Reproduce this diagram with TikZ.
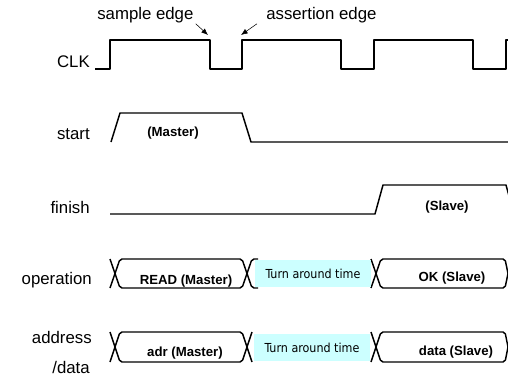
\documentclass[tikz,border=0pt]{standalone}
\usepackage{fontspec}
\setmainfont{Liberation Sans}
\newfontfamily\tatfont{DejaVu Sans Condensed}
\usetikzlibrary{arrows.meta}
\definecolor{tatcyan}{RGB}{204,255,255}
\begin{document}
\begin{tikzpicture}[x=0.75pt,y=-0.75pt,
        wave/.style={line width=1.1pt,line join=round},
        bus/.style={wave,rounded corners=1.5pt},
        signal/.style={anchor=base east,inner sep=0pt,font=\fontsize{12.6}{14}\selectfont},
        note/.style={anchor=base west,inner sep=0pt,font=\fontsize{12.6}{14}\selectfont},
        who/.style={anchor=base,inner sep=0pt,font=\bfseries\fontsize{9.9}{11}\selectfont},
        turn/.style={fill=tatcyan,minimum width=87pt,minimum height=20.25pt,inner sep=0pt,font=\tatfont\fontsize{9.3}{11}\selectfont}]
        \clip (0,0) rectangle (508,375);
        \node[signal] (clk) at (90,67) {CLK};
        \node[signal] (st) at (90,139) {start};
        \node[signal] (fin) at (90,213) {finish};
        \node[signal] (op) at (92,284) {operation};
        \node[signal] (adr) at (92,343) {address};
        \node[signal] (dat) at (90,373) {/data};
        \node[note] (sample) at (97,19) {sample edge};
        \node[note] (assert) at (266,19) {assertion edge};
        \coordinate (fall) at (208,35);
        \coordinate (rise) at (241,35);
        \draw[-{Latex[length=5pt,width=4pt]}] ([shift={(2,1)}]sample.south east) to (fall);
        \draw[-{Latex[length=5pt,width=4pt]}] ([shift={(-9,1)}]assert.south west) to (rise);
        \draw[wave] (95,69) -- (110,69) -- (110,40) -- (210,40) -- (210,69) -- (242,69) -- (242,40) -- (341,40) -- (341,69)
            -- (374,69) -- (374,40) -- (473,40) -- (473,69) -- (506,69) -- (506,40) -- (512,40);
        \draw[wave] (111,142) -- (120,113) -- (242,113) -- (251,142) -- (512,142);
        \draw[wave] (110,214) -- (375,214) -- (383,185) -- (506,185) -- (514,214);
        \draw[bus] (110,259) -- (120,288) -- (242,288) -- (252,259) -- (258,259);
        \draw[bus] (110,288) -- (120,259) -- (242,259) -- (252,288) -- (258,288);
        \draw[bus] (371,259) -- (381,288) -- (505,288) -- (511,259);
        \draw[bus] (371,288) -- (381,259) -- (505,259) -- (511,288);
        \draw[bus] (110,332) -- (120,362) -- (242,362) -- (252,332);
        \draw[bus] (110,362) -- (120,332) -- (242,332) -- (252,362);
        \draw[bus] (371,332) -- (381,362) -- (505,362) -- (511,332);
        \draw[bus] (371,362) -- (381,332) -- (505,332) -- (511,362);
        \node[turn] (t1) at (313,273.5) {Turn around time};
        \node[turn] (t2) at (312,347.5) {Turn around time};
        \node[who] (m1) at (173,136) {(Master)};
        \node[who] (s1) at (447,210) {(Slave)};
        \node[who] (m2) at (186,284) {READ (Master)};
        \node[who] (s2) at (452,281) {OK (Slave)};
        \node[who] (m3) at (185,356) {adr (Master)};
        \node[who] (s3) at (456,355) {data (Slave)};
    \end{tikzpicture}
\end{document}
